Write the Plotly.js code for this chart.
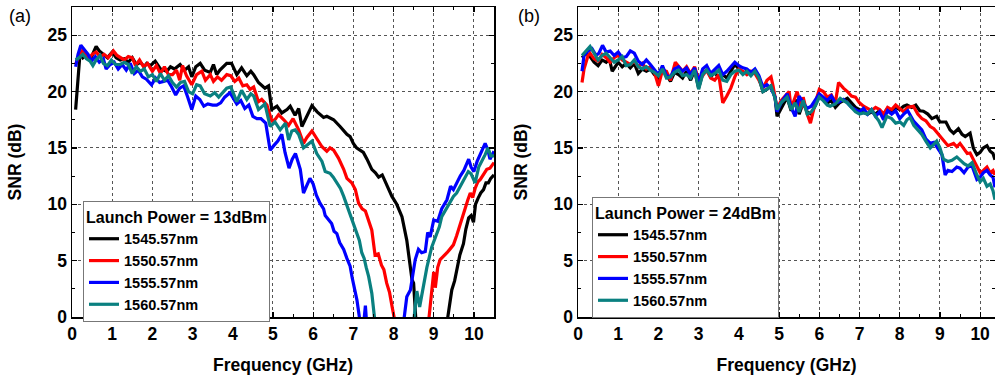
<!DOCTYPE html>
<html>
<head>
<meta charset="utf-8">
<script src="https://cdn.plot.ly/plotly-3.0.1.min.js"></script>
<style>html,body{margin:0;padding:0;background:#fff;}#chart{width:995px;height:377px;}</style>
</head>
<body>
<div id="chart"></div>
<script>
// Series names and panel labels
const seriesNames = ['1545.57nm', '1550.57nm', '1555.57nm', '1560.57nm'];
const seriesColors = ['#000000', '#ff0000', '#0000ff', '#0a8080'];
const panelTitles = ['Launch Power = 13dBm', 'Launch Power = 24dBm'];
const panelLabels = ['(a)', '(b)'];
const xTitle = 'Frequency (GHz)';
const yTitle = 'SNR (dB)';

// Panel (a): [frequency GHz, SNR dB]; null marks a gap where the curve drops below 0
const a1545 = [[0.09,18.4],[0.14,21.0],[0.2,23.4],[0.27,23.0],[0.35,23.3],[0.45,22.8],[0.52,23.3],[0.6,24.0],[0.68,23.6],[0.78,23.3],[0.88,23.0],[1.0,23.5],[1.1,23.0],[1.2,22.8],[1.3,22.9],[1.4,22.6],[1.5,23.0],[1.6,22.4],[1.7,22.6],[1.8,22.2],[1.86,22.5],[1.95,22.3],[2.07,22.7],[2.2,22.0],[2.36,21.8],[2.45,22.2],[2.55,22.0],[2.69,22.4],[2.8,21.9],[2.9,22.2],[2.98,21.3],[3.08,22.2],[3.19,22.5],[3.3,21.9],[3.44,21.7],[3.52,22.4],[3.6,21.5],[3.68,21.9],[3.78,22.3],[3.85,22.5],[3.97,22.5],[4.1,21.5],[4.22,22.1],[4.35,21.4],[4.45,21.8],[4.52,21.5],[4.64,20.8],[4.8,20.3],[4.89,20.5],[4.97,18.4],[5.1,18.7],[5.22,18.1],[5.35,18.4],[5.43,18.7],[5.55,17.9],[5.64,18.5],[5.72,16.9],[5.84,17.8],[5.97,18.75],[6.1,18.2],[6.26,17.7],[6.34,17.8],[6.51,17.5],[6.67,16.9],[6.84,16.2],[6.92,16.0],[7.0,15.4],[7.08,15.0],[7.17,14.8],[7.25,14.6],[7.34,14.0],[7.46,13.1],[7.55,12.8],[7.63,12.4],[7.72,12.6],[7.79,12.0],[7.88,11.4],[7.96,10.7],[8.08,10.0],[8.21,8.9],[8.33,6.8],[8.41,4.8],[8.46,3.3],[8.5,3.0],[8.53,1.5],[8.56,-0.5],[8.9,null],[9.33,-0.5],[9.38,0.8],[9.45,2.4],[9.52,3.2],[9.58,4.2],[9.65,5.5],[9.74,6.5],[9.8,7.8],[9.87,8.8],[9.93,9.0],[9.99,8.4],[10.04,10.0],[10.1,10.5],[10.17,11.0],[10.24,11.3],[10.3,11.9],[10.36,11.9],[10.42,12.3],[10.5,12.6]];
const a1550 = [[0.09,22.4],[0.15,23.0],[0.25,23.6],[0.35,23.2],[0.42,22.9],[0.5,23.3],[0.6,23.5],[0.7,23.1],[0.8,23.3],[0.9,23.0],[1.03,23.6],[1.12,23.2],[1.2,23.0],[1.3,22.8],[1.4,23.1],[1.5,23.0],[1.58,22.3],[1.68,22.8],[1.78,22.2],[1.88,22.5],[2.0,21.8],[2.1,22.3],[2.2,21.6],[2.3,22.2],[2.4,21.5],[2.5,21.5],[2.6,21.9],[2.68,21.0],[2.75,22.3],[2.85,21.4],[2.98,20.6],[3.1,21.5],[3.23,21.8],[3.32,21.0],[3.44,21.5],[3.52,20.9],[3.62,21.3],[3.72,21.0],[3.85,21.5],[3.95,21.4],[4.05,20.9],[4.15,21.2],[4.25,20.5],[4.35,20.6],[4.43,20.2],[4.52,20.4],[4.64,19.1],[4.72,19.3],[4.85,18.8],[4.97,17.4],[5.05,17.5],[5.14,17.95],[5.27,17.5],[5.39,17.0],[5.5,17.6],[5.64,16.6],[5.76,15.4],[5.84,15.9],[5.97,16.5],[6.1,15.8],[6.22,15.1],[6.34,14.7],[6.42,15.0],[6.51,14.8],[6.63,14.1],[6.76,13.1],[6.84,12.3],[6.96,11.9],[7.05,11.3],[7.13,10.1],[7.22,9.6],[7.3,9.4],[7.38,8.5],[7.46,7.7],[7.54,5.5],[7.62,5.6],[7.7,4.6],[7.76,4.2],[7.83,3.0],[7.9,2.2],[7.96,1.0],[8.04,-0.5],[8.5,null],[8.87,-0.5],[9.0,4.0],[9.04,2.6],[9.1,4.4],[9.16,5.1],[9.25,5.4],[9.33,5.7],[9.4,6.0],[9.49,6.4],[9.57,7.2],[9.66,8.3],[9.72,8.8],[9.78,9.6],[9.85,10.4],[9.91,11.0],[9.97,10.6],[10.03,11.4],[10.1,12.0],[10.16,12.2],[10.24,12.6],[10.32,13.1],[10.4,13.2],[10.5,13.7]];
const a1555 = [[0.09,22.2],[0.15,23.3],[0.22,24.1],[0.3,23.7],[0.4,23.3],[0.48,22.7],[0.58,23.1],[0.68,22.6],[0.78,22.9],[0.85,22.0],[0.95,22.4],[1.05,22.6],[1.15,22.0],[1.25,22.4],[1.35,21.9],[1.45,22.5],[1.55,21.6],[1.65,21.9],[1.75,21.3],[1.85,21.1],[1.98,20.6],[2.08,21.2],[2.18,20.8],[2.28,20.9],[2.38,21.0],[2.48,20.4],[2.58,19.7],[2.68,20.3],[2.78,20.5],[2.88,19.5],[2.98,18.4],[3.08,19.6],[3.18,19.3],[3.28,18.7],[3.38,18.9],[3.5,18.8],[3.6,18.8],[3.7,19.0],[3.8,19.5],[3.93,19.9],[4.02,19.3],[4.1,18.9],[4.2,19.2],[4.3,18.5],[4.4,18.8],[4.5,17.8],[4.6,17.6],[4.7,17.6],[4.82,17.2],[4.93,14.8],[5.02,15.2],[5.12,15.6],[5.22,16.2],[5.3,14.6],[5.4,13.2],[5.48,14.0],[5.56,14.5],[5.63,13.8],[5.68,13.1],[5.76,11.0],[5.84,11.6],[5.92,12.3],[6.0,11.8],[6.08,10.8],[6.17,10.1],[6.26,9.6],[6.3,9.0],[6.38,8.6],[6.46,8.3],[6.52,7.6],[6.59,7.4],[6.66,6.6],[6.76,6.0],[6.84,5.2],[6.92,4.5],[6.97,3.5],[7.0,3.0],[7.04,2.4],[7.09,1.5],[7.17,-0.5],[7.22,null],[7.26,-0.5],[7.3,1.0],[7.33,-0.5],[7.8,null],[8.25,-0.5],[8.33,1.8],[8.42,2.4],[8.54,5.1],[8.62,6.0],[8.7,5.7],[8.79,5.8],[8.85,7.5],[8.91,7.1],[9.0,8.6],[9.1,8.5],[9.2,9.6],[9.33,10.4],[9.42,11.6],[9.49,11.3],[9.58,12.0],[9.66,12.5],[9.75,13.0],[9.87,14.0],[9.93,13.3],[10.0,12.9],[10.08,13.8],[10.16,14.5],[10.28,15.4],[10.35,14.8],[10.4,14.0],[10.5,14.7]];
const a1560 = [[0.09,22.8],[0.18,23.0],[0.27,23.3],[0.36,22.9],[0.45,22.7],[0.52,22.3],[0.6,22.8],[0.7,23.2],[0.78,22.5],[0.88,22.3],[0.98,22.8],[1.08,22.4],[1.2,22.4],[1.3,22.6],[1.4,22.4],[1.5,21.6],[1.6,22.2],[1.7,21.8],[1.8,22.0],[1.9,21.3],[2.0,21.5],[2.1,20.9],[2.2,21.6],[2.3,21.0],[2.4,21.4],[2.5,20.8],[2.6,20.4],[2.7,20.8],[2.8,20.9],[2.9,20.0],[3.0,19.8],[3.1,20.6],[3.19,20.5],[3.3,19.8],[3.44,19.6],[3.55,19.9],[3.65,19.5],[3.75,19.9],[3.85,20.3],[3.95,20.4],[4.1,19.1],[4.22,20.1],[4.35,19.3],[4.45,19.8],[4.52,19.6],[4.64,18.4],[4.8,18.9],[4.93,16.9],[5.05,17.3],[5.18,16.6],[5.31,17.2],[5.39,15.7],[5.47,16.5],[5.55,16.6],[5.64,16.2],[5.76,15.0],[5.84,15.2],[5.97,15.6],[6.09,14.5],[6.22,13.8],[6.3,12.9],[6.42,12.75],[6.5,12.4],[6.59,11.9],[6.68,11.4],[6.76,10.7],[6.84,9.9],[6.92,8.9],[7.0,8.2],[7.09,7.4],[7.15,6.8],[7.21,5.7],[7.27,5.2],[7.32,4.4],[7.38,3.6],[7.46,2.1],[7.54,-0.5],[8.0,null],[8.5,-0.5],[8.58,2.3],[8.65,0.9],[8.7,1.8],[8.75,3.0],[8.83,4.4],[8.95,6.2],[9.02,6.8],[9.08,7.4],[9.14,8.0],[9.2,8.9],[9.3,9.5],[9.4,10.2],[9.49,10.7],[9.57,11.0],[9.66,11.6],[9.72,12.0],[9.78,12.4],[9.86,12.9],[9.93,12.7],[10.03,11.9],[10.12,13.3],[10.2,13.8],[10.28,14.4],[10.35,15.0],[10.42,14.3],[10.5,14.3]];

// Panel (b)
const b1545 = [[0.1,23.0],[0.2,23.4],[0.3,23.1],[0.4,22.6],[0.5,22.3],[0.6,22.8],[0.7,22.6],[0.78,22.9],[0.85,21.8],[0.95,22.3],[1.0,22.6],[1.1,22.2],[1.2,22.5],[1.3,22.1],[1.4,22.5],[1.5,21.6],[1.6,22.0],[1.7,21.8],[1.8,22.0],[1.9,21.5],[2.0,21.2],[2.1,22.1],[2.2,21.5],[2.3,20.9],[2.4,21.7],[2.5,21.5],[2.6,21.2],[2.7,21.8],[2.8,21.0],[2.9,21.9],[3.0,20.3],[3.1,21.6],[3.2,21.9],[3.3,21.3],[3.4,21.7],[3.5,21.2],[3.6,21.5],[3.7,21.2],[3.8,21.8],[3.9,22.4],[4.0,22.0],[4.1,21.6],[4.2,21.8],[4.3,21.5],[4.4,21.8],[4.5,21.2],[4.6,20.0],[4.7,20.2],[4.8,20.5],[4.9,19.5],[4.95,17.8],[5.05,18.5],[5.2,19.5],[5.3,18.3],[5.4,19.3],[5.5,18.0],[5.6,19.0],[5.7,18.2],[5.8,18.0],[5.9,18.8],[6.0,19.6],[6.1,19.3],[6.2,19.0],[6.3,19.2],[6.4,18.6],[6.5,19.0],[6.6,19.2],[6.7,19.4],[6.8,19.0],[6.9,18.6],[7.0,18.4],[7.1,18.2],[7.2,18.0],[7.3,18.2],[7.4,18.0],[7.5,18.3],[7.6,18.0],[7.7,18.5],[7.8,18.2],[7.9,18.6],[8.0,18.4],[8.1,18.7],[8.18,18.8],[8.3,18.6],[8.4,18.8],[8.5,18.3],[8.59,18.25],[8.7,18.0],[8.8,17.6],[8.92,17.8],[9.0,17.3],[9.15,17.3],[9.25,16.6],[9.34,16.3],[9.46,16.7],[9.55,16.2],[9.63,16.0],[9.75,16.3],[9.83,15.0],[9.92,14.4],[10.0,14.6],[10.08,15.0],[10.17,15.2],[10.25,14.7],[10.32,14.5],[10.37,13.95]];
const b1550 = [[0.1,20.8],[0.15,22.0],[0.25,23.2],[0.3,23.4],[0.4,22.9],[0.5,22.7],[0.6,23.3],[0.7,23.0],[0.8,22.6],[0.9,23.0],[1.0,23.2],[1.1,22.8],[1.2,22.6],[1.3,22.4],[1.4,22.7],[1.5,22.2],[1.6,22.5],[1.7,22.0],[1.8,22.2],[1.9,21.7],[2.0,20.5],[2.1,21.9],[2.2,21.8],[2.3,21.0],[2.42,22.6],[2.5,22.2],[2.6,21.8],[2.7,22.2],[2.8,21.6],[2.9,22.2],[3.0,21.0],[3.1,21.4],[3.2,21.9],[3.3,21.2],[3.4,21.0],[3.5,21.5],[3.6,19.0],[3.7,19.6],[3.8,20.3],[3.9,21.3],[4.0,22.0],[4.1,21.8],[4.2,21.5],[4.3,21.8],[4.4,21.6],[4.5,21.0],[4.6,20.3],[4.7,21.0],[4.8,21.3],[4.85,20.5],[4.95,18.5],[5.05,19.2],[5.15,19.6],[5.25,20.0],[5.3,18.5],[5.45,20.0],[5.55,18.5],[5.6,19.5],[5.7,18.0],[5.78,17.2],[5.9,19.0],[6.0,20.2],[6.1,20.0],[6.2,19.5],[6.3,19.7],[6.4,19.0],[6.48,20.8],[6.6,20.3],[6.7,20.0],[6.8,19.6],[6.9,19.5],[7.0,19.0],[7.1,18.7],[7.2,18.5],[7.3,18.3],[7.4,18.6],[7.5,18.4],[7.6,18.0],[7.7,18.6],[7.8,18.4],[7.9,18.8],[8.0,18.5],[8.1,18.2],[8.2,18.6],[8.34,18.7],[8.45,18.0],[8.55,17.6],[8.65,17.4],[8.76,16.9],[8.85,16.7],[8.95,16.3],[9.09,15.7],[9.2,15.2],[9.34,15.4],[9.42,15.1],[9.5,15.4],[9.6,14.9],[9.68,14.5],[9.75,14.55],[9.83,14.0],[9.92,13.4],[10.0,12.8],[10.08,13.0],[10.17,13.3],[10.25,12.8],[10.32,13.0],[10.37,12.6]];
const b1555 = [[0.1,21.8],[0.15,23.2],[0.25,23.6],[0.35,23.8],[0.45,23.2],[0.52,23.4],[0.61,24.1],[0.7,23.5],[0.8,23.6],[0.9,23.2],[1.0,23.5],[1.1,23.0],[1.2,23.1],[1.3,23.6],[1.4,23.4],[1.5,22.7],[1.6,22.4],[1.7,22.8],[1.8,22.4],[1.9,21.9],[2.0,21.5],[2.1,22.3],[2.2,21.4],[2.3,21.3],[2.4,22.0],[2.5,22.2],[2.6,21.8],[2.7,22.1],[2.8,21.5],[2.9,22.1],[3.0,20.8],[3.1,22.0],[3.2,22.3],[3.3,21.6],[3.4,22.0],[3.5,22.3],[3.6,21.5],[3.7,21.8],[3.8,22.2],[3.9,22.6],[4.0,22.3],[4.1,22.1],[4.2,22.0],[4.3,21.7],[4.4,22.0],[4.5,21.4],[4.6,20.4],[4.7,20.6],[4.8,20.3],[4.9,19.5],[4.95,18.2],[5.05,19.0],[5.2,19.8],[5.3,18.6],[5.4,17.8],[5.5,19.6],[5.6,19.0],[5.7,18.5],[5.8,18.7],[5.9,19.2],[6.0,19.8],[6.1,19.5],[6.2,19.2],[6.3,19.6],[6.4,19.0],[6.5,19.1],[6.6,19.3],[6.7,19.0],[6.8,18.6],[6.9,18.4],[7.0,18.2],[7.1,18.5],[7.2,18.0],[7.3,18.4],[7.4,17.8],[7.5,18.2],[7.6,17.5],[7.7,18.3],[7.8,18.0],[7.9,18.3],[8.0,17.6],[8.1,18.0],[8.2,18.3],[8.34,17.4],[8.45,17.0],[8.55,16.6],[8.65,15.8],[8.76,15.4],[8.85,15.5],[8.95,15.0],[9.05,14.4],[9.13,12.6],[9.2,13.0],[9.3,12.9],[9.42,13.3],[9.5,13.2],[9.6,12.8],[9.7,13.3],[9.8,13.4],[9.92,12.2],[10.0,12.4],[10.08,12.8],[10.17,13.0],[10.25,12.6],[10.32,12.4],[10.37,11.5]];
const b1560 = [[0.1,23.2],[0.2,23.6],[0.3,24.0],[0.4,23.4],[0.5,22.8],[0.6,23.2],[0.7,23.4],[0.8,23.0],[0.9,22.6],[1.0,22.8],[1.1,23.1],[1.2,22.3],[1.3,22.4],[1.4,22.8],[1.5,22.2],[1.6,22.0],[1.7,22.2],[1.8,21.9],[1.9,21.7],[2.0,21.4],[2.1,22.0],[2.2,21.2],[2.3,21.3],[2.4,21.7],[2.5,21.9],[2.6,21.4],[2.7,21.5],[2.8,21.2],[2.9,21.9],[3.0,20.2],[3.1,21.5],[3.2,21.9],[3.3,21.4],[3.4,21.6],[3.5,21.9],[3.6,21.0],[3.7,20.9],[3.8,21.5],[3.9,21.8],[4.0,21.9],[4.1,21.5],[4.2,21.8],[4.3,21.4],[4.4,21.8],[4.5,21.2],[4.6,20.0],[4.7,20.2],[4.8,20.5],[4.9,19.4],[4.95,18.4],[5.05,19.0],[5.2,19.5],[5.3,18.4],[5.4,19.0],[5.5,18.2],[5.6,19.2],[5.7,18.0],[5.8,18.2],[5.9,18.7],[6.0,19.5],[6.1,19.2],[6.2,18.8],[6.27,18.7],[6.4,18.9],[6.52,19.4],[6.6,19.2],[6.7,19.0],[6.8,18.6],[6.9,18.2],[7.0,18.0],[7.1,18.1],[7.2,18.0],[7.3,18.4],[7.4,17.8],[7.48,17.4],[7.56,16.8],[7.68,17.8],[7.8,17.6],[7.9,17.2],[8.01,17.3],[8.1,17.0],[8.18,17.5],[8.26,17.7],[8.35,17.0],[8.45,16.6],[8.55,16.2],[8.65,15.6],[8.76,15.0],[8.84,15.3],[8.92,15.6],[9.0,15.0],[9.09,14.0],[9.2,13.8],[9.3,13.9],[9.42,14.2],[9.5,13.9],[9.6,13.6],[9.7,13.4],[9.8,13.7],[9.92,12.6],[10.0,12.0],[10.08,12.3],[10.17,11.6],[10.25,11.8],[10.32,11.2],[10.37,10.4]];

const panelA = [a1545, a1550, a1555, a1560];
const panelB = [b1545, b1550, b1555, b1560];

const FONT = 'Liberation Sans, Arial, Helvetica, sans-serif';
const traces = [];
[panelA, panelB].forEach((panel, p) => {
  panel.forEach((series, i) => {
    traces.push({
      type: 'scatter', mode: 'lines',
      x: series.map(d => d[0]), y: series.map(d => d[1]),
      name: seriesNames[i],
      xaxis: p === 0 ? 'x' : 'x2', yaxis: p === 0 ? 'y' : 'y2',
      legend: p === 0 ? 'legend' : 'legend2',
      line: {color: seriesColors[i], width: 3.2},
      connectgaps: false
    });
  });
});

function xax(domain, range, anchor) {
  return {
    domain, range, anchor, tick0: 0, dtick: 1,
    showline: true, linecolor: '#000', linewidth: 1.5, mirror: 'allticks',
    ticks: 'inside', ticklen: 5, tickwidth: 1.2, tickcolor: '#000',
    minor: {dtick: 0.5, ticks: 'inside', ticklen: 3, tickwidth: 1, tickcolor: '#000', showgrid: false},
    showgrid: true, gridcolor: '#555', griddash: 'dot', gridwidth: 1, zeroline: false,
    tickfont: {family: FONT, size: 17.5, color: '#000', weight: 'bold'},
    title: {text: xTitle, font: {family: FONT, size: 17.5, color: '#000', weight: 'bold'}, standoff: 16}
  };
}
function yax(anchor) {
  return {
    domain: [0, 1], range: [0, 27.5], anchor, tick0: 0, dtick: 5,
    showline: true, linecolor: '#000', linewidth: 1.5, mirror: 'allticks',
    ticks: 'inside', ticklen: 5, tickwidth: 1.2, tickcolor: '#000',
    minor: {dtick: 2.5, ticks: 'inside', ticklen: 3, tickwidth: 1, tickcolor: '#000', showgrid: false},
    showgrid: true, gridcolor: '#555', griddash: 'dot', gridwidth: 1, zeroline: false,
    tickfont: {family: FONT, size: 17.5, color: '#000', weight: 'bold'},
    title: {text: yTitle, font: {family: FONT, size: 17.5, color: '#000', weight: 'bold'}, standoff: 21}
  };
}
function leg(x, y, title) {
  return {
    x, y, xanchor: 'left', yanchor: 'top', bgcolor: '#fff',
    bordercolor: '#777', borderwidth: 1, tracegroupgap: 0,
    title: {text: title, font: {family: FONT, size: 16, color: '#000', weight: 'bold'}},
    font: {family: FONT, size: 14.5, color: '#000', weight: 'bold'}
  };
}

const layout = {
  width: 995, height: 377,
  margin: {l: 0, r: 0, t: 7, b: 60},
  paper_bgcolor: '#fff', plot_bgcolor: '#fff',
  showlegend: true,
  xaxis: xax([72/995, 494/995], [0, 10.5], 'y'),
  yaxis: yax('x'),
  xaxis2: xax([578/995, 1], [0, 10.37], 'y2'),
  yaxis2: yax('x2'),
  legend: leg(83/995, (317-201)/310, panelTitles[0]),
  legend2: leg(592/995, (317-197)/310, panelTitles[1]),
  annotations: [
    {xref: 'paper', yref: 'paper', x: 7/995, y: (317-16)/310, xanchor: 'left', yanchor: 'middle', showarrow: false, text: panelLabels[0], font: {family: FONT, size: 18, color: '#000'}},
    {xref: 'paper', yref: 'paper', x: 516/995, y: (317-16)/310, xanchor: 'left', yanchor: 'middle', showarrow: false, text: panelLabels[1], font: {family: FONT, size: 18, color: '#000'}}
  ]
};

Plotly.newPlot('chart', traces, layout, {displayModeBar: false, staticPlot: true});
</script>
</body>
</html>
